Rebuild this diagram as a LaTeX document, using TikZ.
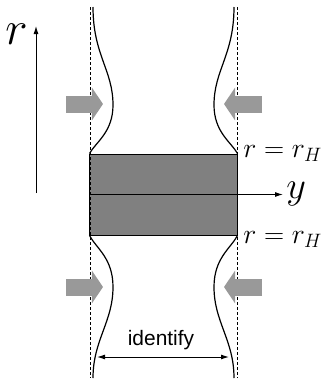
\documentclass[tikz,border=0pt]{standalone}
\usepackage{fontspec}
\newfontfamily\etiq{Liberation Sans}
\usetikzlibrary{
	arrows.meta,
	positioning
}

\begin{document}
\begin{tikzpicture}[x=1bp, y=-1bp,
  borde/.style={dashed, dash pattern=on 3bp off 2bp, line width=0.8bp},
  perfil/.style={line width=1.2bp},
  empuje/.style={line width=17bp, color=black!40,
    -{Triangle[length=11bp, width=32bp]}},
  flecha/.style={-{Latex[length=8bp, width=5bp]}, line width=1bp},
  brana/.style={rectangle, draw, fill=black!50, line width=1bp,
    minimum width=147bp, minimum height=81bp, inner sep=0pt},
  rotulo/.style={anchor=base west, inner sep=0pt, font=\huge}
]
\useasboundingbox (0,0) rectangle (329,383);

% la brana
\node[brana] (bloque) at (163.5,194.5) {};

% bordes discontinuos
\coordinate (izqA) at (90,7);
\coordinate (izqB) at (90,378);
\coordinate (derA) at (237,7);
\coordinate (derB) at (237,378);
\draw[borde] (izqA) -- (izqB);
\draw[borde] (derA) -- (derB);

% perfiles
\draw[perfil] (93,7) .. controls (93,55) and (113,70) .. (113,105)
  .. controls (113,132) and (96,142) .. (bloque.north west);
\draw[perfil] (234,7) .. controls (234,55) and (214,70) .. (214,105)
  .. controls (214,132) and (231,142) .. (bloque.north east);
\draw[perfil] (bloque.south west) .. controls (96,248) and (113,258) .. (113,287)
  .. controls (113,322) and (93,340) .. (93,378);
\draw[perfil] (bloque.south east) .. controls (231,248) and (214,258) .. (214,287)
  .. controls (214,322) and (234,340) .. (234,378);

% empujes grises
\coordinate (eiA) at (66,104);
\coordinate (eiB) at (103,104);
\coordinate (edA) at (262,104);
\coordinate (edB) at (224,104);
\coordinate (eiC) at (66,287);
\coordinate (eiD) at (103,287);
\coordinate (edC) at (262,287);
\coordinate (edD) at (224,287);
\draw[empuje] (eiA) -- (eiB);
\draw[empuje] (edA) -- (edB);
\draw[empuje] (eiC) -- (eiD);
\draw[empuje] (edC) -- (edD);

% ejes
\coordinate (rini) at (36,193);
\coordinate (rfin) at (36,26);
\draw[flecha] (rini) -- (rfin);
\node[rotulo, scale=2.3] (rlabel) at (5,44) {$r$};
\coordinate (yfin) at (283,194.5);
\draw[flecha] (bloque.west) -- (yfin);
\node[rotulo, scale=1.85] (ylabel) at (286,198) {$y$};

% horizontes
\node[rotulo, scale=1.35] (hsup) at (243,157) {$r=r_H$};
\node[rotulo, scale=1.35] (hinf) at (243,243) {$r=r_H$};

% identificacion
\node[anchor=base, inner sep=0pt, font=\etiq\fontsize{21}{21}\selectfont]
  (ident) at (161,345) {identify};
\coordinate (idA) at (97,357);
\coordinate (idB) at (229,357);
\draw[{Latex[length=8bp, width=5bp]}-{Latex[length=8bp, width=5bp]}, line width=1bp]
  (idA) -- (idB);
\end{tikzpicture}
\end{document}
